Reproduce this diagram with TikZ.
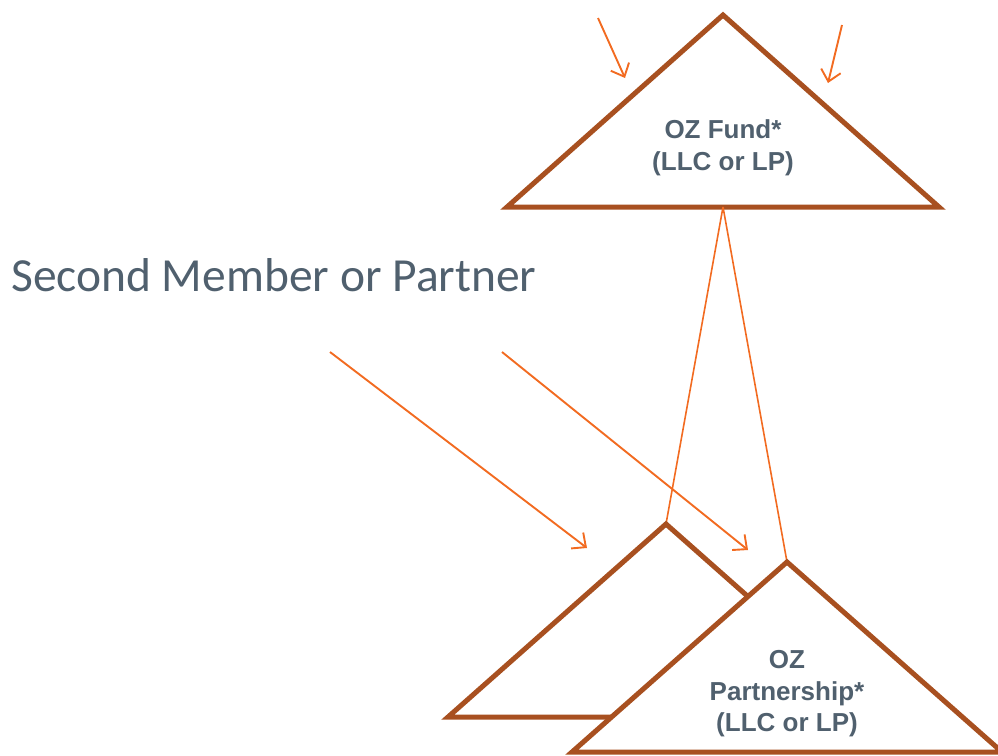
\documentclass[tikz,border=0pt]{standalone}
\usepackage{fontspec}
\setmainfont{Liberation Sans}
\newfontfamily\calib{Carlito}
\usetikzlibrary{arrows.meta}
\definecolor{brownline}{RGB}{168,80,32}
\definecolor{orangeline}{RGB}{242,107,33}
\definecolor{slate}{RGB}{80,96,110}
\tikzset{
  tri/.style={draw=brownline,line width=5pt,fill=white,line join=miter},
  link/.style={draw=orangeline,line width=1.6pt},
  arr/.style={draw=orangeline,line width=1.9pt,-{Straight Barb[length=11pt,width=20pt,line width=1.9pt]}},
  lbl/.style={text=slate,font=\bfseries\fontsize{26}{31.5}\selectfont,align=center,inner sep=0pt},
}
\begin{document}
\begin{tikzpicture}[x=1pt,y=-1pt]
\useasboundingbox (0,0) rectangle (998,755);
\clip (0,0) rectangle (998,755);
% coordinates
\coordinate (fa) at (723,15);
\coordinate (fl) at (507,207);
\coordinate (fr) at (939,207);
\coordinate (fb) at (723,207);
\coordinate (ba) at (666,524);
\coordinate (bl) at (448,717);
\coordinate (br) at (884,717);
\coordinate (pa) at (787,562);
\coordinate (pl) at (572,752);
\coordinate (pr) at (1002,752);
% top triangle
\path[tri] (fa) -- (fl) -- (fr) -- cycle;
\node[lbl] (fund) at (723,148) {OZ Fund*\\(LLC or LP)};
% links
\draw[link] (fb) -- (ba);
\draw[link] (fb) -- (pa);
% bottom triangles
\path[tri] (ba) -- (bl) -- (br) -- cycle;
\path[tri] (pa) -- (pl) -- (pr) -- cycle;
\node[lbl] (part) at (787,694) {OZ\\Partnership*\\(LLC or LP)};
% member text
\node[text=slate,anchor=west,inner sep=0pt,font=\calib\fontsize{47.5}{55}\selectfont] (second) at (11,275) {Second Member or Partner};
% arrows
\coordinate (a1s) at (598,18);  \coordinate (a1e) at (625,78);
\coordinate (a2s) at (842,25);  \coordinate (a2e) at (828,83);
\coordinate (a3s) at (330,352); \coordinate (a3e) at (587,548);
\coordinate (a4s) at (502,352); \coordinate (a4e) at (748,550);
\draw[arr] (a1s) -- (a1e);
\draw[arr] (a2s) -- (a2e);
\draw[arr] (a3s) -- (a3e);
\draw[arr] (a4s) -- (a4e);
\end{tikzpicture}
\end{document}
